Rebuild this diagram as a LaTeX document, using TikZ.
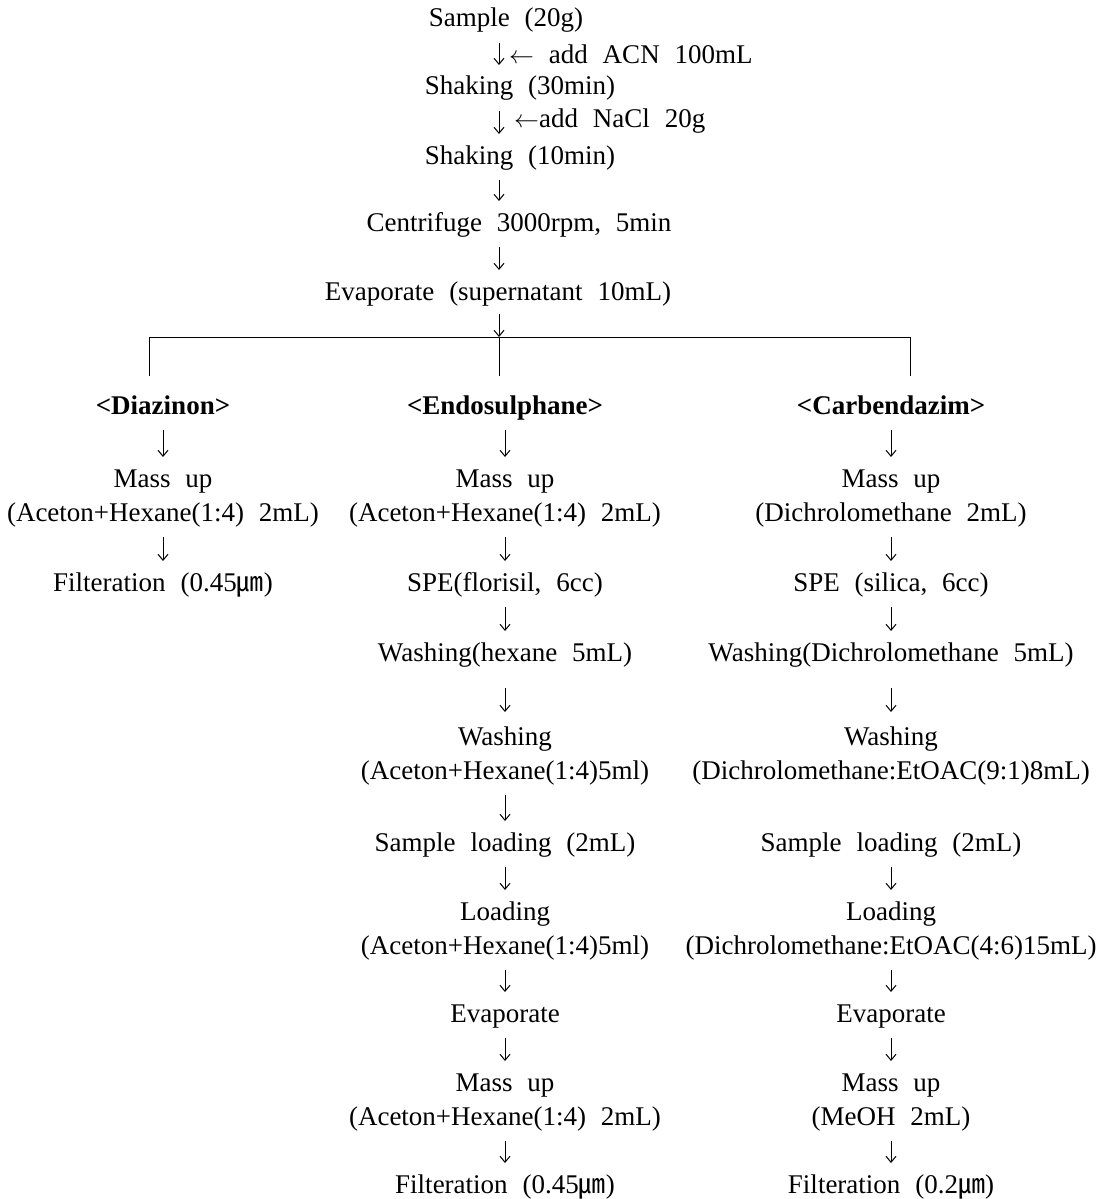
\documentclass[tikz,border=0pt]{standalone}
\usepackage{fontspec}
\setmainfont{Liberation Serif}[WordSpace=2.2]
\newfontfamily\cjk{Noto Sans CJK KR}
\usetikzlibrary{arrows.meta}
\newcommand{\brk}{\\\strut}
\newcommand{\um}{{\cjk ㎛}}
\tikzset{
  txt/.style={anchor=north, inner sep=0pt, align=center,
    font=\fontsize{27}{34}\selectfont},
  hd/.style={txt, font=\fontsize{27}{34}\selectfont\bfseries},
  side/.style={anchor=west, inner sep=0pt, font=\fontsize{27}{34}\selectfont},
  arr/.style={-{Straight Barb[length=6pt,width=10pt]}, line width=1pt,
    shorten <=6pt, shorten >=6pt},
  ln/.style={line width=0.9pt}
}
\begin{document}
\begin{tikzpicture}[x=1pt,y=-1pt]
\useasboundingbox (0,0) rectangle (1103,1199);
% top chain
\node[txt] (s1) at (506,3) {\strut Sample (20g)};
\node[txt] (s2) at (520,71) {\strut Shaking (30min)};
\node[txt] (s3) at (520,140) {\strut Shaking (10min)};
\node[txt] (s4) at (519,207) {\strut Centrifuge 3000rpm, 5min};
\node[txt] (s5) at (498,276) {\strut Evaporate (supernatant 10mL)};
\coordinate (ax) at (499,0);
\node[side] (l1) at (509,54) {$\leftarrow$ add ACN 100mL};
\node[side] (l2) at (514,121) {$\leftarrow$add NaCl 20g};
\draw[arr] (s1.south -| ax) -- (s2.north -| ax);
\draw[arr] (s2.south -| ax) -- (s3.north -| ax);
\draw[arr] (s3.south -| ax) -- (s4.north -| ax);
\draw[arr] (s4.south -| ax) -- (s5.north -| ax);
% split
\coordinate (jl) at (149,337);
\coordinate (jm) at (499,337);
\coordinate (jr) at (910,337);
\coordinate (el) at (149,376);
\coordinate (em) at (499,376);
\coordinate (er) at (910,376);
\draw[arr, shorten <=4pt, shorten >=0pt] (s5.south -| jm) -- (jm);
\draw[ln] (jl) -- (jr);
\draw[ln] (jl) -- (el);
\draw[ln] (jm) -- (em);
\draw[ln] (jr) -- (er);
% headings
\node[hd] (hL) at (163,390) {\strut <Diazinon>};
\node[hd] (hM) at (505,390) {\strut <Endosulphane>};
\node[hd] (hR) at (891,390) {\strut <Carbendazim>};
% left column
\node[txt] (a1) at (163,463) {\strut Mass up\brk(Aceton+Hexane(1:4) 2mL)};
\node[txt] (a2) at (163,567) {\strut Filteration (0.45\um)};
\draw[arr] (hL) -- (a1);
\draw[arr] (a1) -- (a2);
% middle column
\node[txt] (b1) at (505,463) {\strut Mass up\brk(Aceton+Hexane(1:4) 2mL)};
\node[txt] (b2) at (505,567) {\strut SPE(florisil, 6cc)};
\node[txt] (b3) at (505,637) {\strut Washing(hexane 5mL)};
\node[txt] (b4) at (505,721) {\strut Washing\brk(Aceton+Hexane(1:4)5ml)};
\node[txt] (b5) at (505,827) {\strut Sample loading (2mL)};
\node[txt] (b6) at (505,896) {\strut Loading\brk(Aceton+Hexane(1:4)5ml)};
\node[txt] (b7) at (505,998) {\strut Evaporate};
\node[txt] (b8) at (505,1067) {\strut Mass up\brk(Aceton+Hexane(1:4) 2mL)};
\node[txt] (b9) at (505,1169) {\strut Filteration (0.45\um)};
\draw[arr] (hM) -- (b1);
\draw[arr] (b1) -- (b2);
\draw[arr] (b2) -- (b3);
\draw[arr, shorten <=17pt, shorten >=9pt] (b3) -- (b4);
\draw[arr] (b4) -- (b5);
\draw[arr] (b5) -- (b6);
\draw[arr] (b6) -- (b7);
\draw[arr] (b7) -- (b8);
\draw[arr] (b8) -- (b9);
% right column
\node[txt] (c1) at (891,463) {\strut Mass up\brk(Dichrolomethane 2mL)};
\node[txt] (c2) at (891,567) {\strut SPE (silica, 6cc)};
\node[txt] (c3) at (891,637) {\strut Washing(Dichrolomethane 5mL)};
\node[txt] (c4) at (891,721) {\strut Washing\brk(Dichrolomethane:EtOAC(9:1)8mL)};
\node[txt] (c5) at (891,827) {\strut Sample loading (2mL)};
\node[txt] (c6) at (891,896) {\strut Loading\brk(Dichrolomethane:EtOAC(4:6)15mL)};
\node[txt] (c7) at (891,998) {\strut Evaporate};
\node[txt] (c8) at (891,1067) {\strut Mass up\brk(MeOH 2mL)};
\node[txt] (c9) at (891,1169) {\strut Filteration (0.2\um)};
\draw[arr] (hR) -- (c1);
\draw[arr] (c1) -- (c2);
\draw[arr] (c2) -- (c3);
\draw[arr, shorten <=17pt, shorten >=9pt] (c3) -- (c4);
\draw[arr] (c5) -- (c6);
\draw[arr] (c6) -- (c7);
\draw[arr] (c7) -- (c8);
\draw[arr] (c8) -- (c9);
\end{tikzpicture}
\end{document}
